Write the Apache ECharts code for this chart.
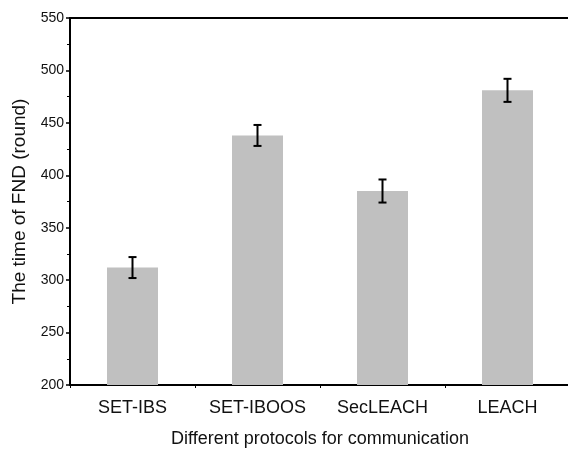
<!DOCTYPE html>
<html><head><meta charset="utf-8">
<script src="https://cdn.jsdelivr.net/npm/echarts@6/dist/echarts.min.js"></script>
<style>html,body{margin:0;padding:0;background:#fff}#c{width:568px;height:449px}</style>
</head><body><div id="c"></div>
<script>
const categories = ['SET-IBS', 'SET-IBOOS', 'SecLEACH', 'LEACH'];
const values = [312, 438, 385, 481];
const errors = [10, 10, 11, 11];
const yTicks = [200, 250, 300, 350, 400, 450, 500, 550];

const font = 'Liberation Sans, Arial, sans-serif';
const chart = echarts.init(document.getElementById('c'));
chart.setOption({
  animation: false,
  grid: { left: 70, top: 18, width: 500, height: 367, outerBoundsMode: 'none', containLabel: false },
  xAxis: [
    { type: 'category', data: categories, position: 'bottom',
      axisLine: { lineStyle: { color: '#000', width: 2 } },
      axisTick: { alignWithLabel: true, length: 5, lineStyle: { color: '#000', width: 1.5 } },
      axisLabel: { interval: 0, hideOverlap: false, color: '#111', fontFamily: font, fontSize: 18, margin: 14 },
      name: 'Different protocols for communication', nameLocation: 'middle', nameGap: 45,
      nameTextStyle: { color: '#111', fontFamily: font, fontSize: 18 } },
    { type: 'category', data: categories, position: 'bottom',
      axisLine: { show: false },
      axisTick: { show: true, interval: 0, length: 3, lineStyle: { color: '#000', width: 1 } },
      axisLabel: { show: false } },
    { type: 'category', data: categories, position: 'top',
      axisLine: { lineStyle: { color: '#000', width: 2 } },
      axisTick: { show: false }, axisLabel: { show: false } }
  ],
  yAxis: {
    type: 'value', min: yTicks[0], max: yTicks[yTicks.length - 1], interval: 50,
    axisLine: { show: true, lineStyle: { color: '#000', width: 2 } },
    axisTick: { show: true, length: 4, lineStyle: { color: '#000', width: 1.5 } },
    minorTick: { show: true, splitNumber: 2, length: 3, lineStyle: { color: '#000', width: 1 } },
    splitLine: { show: false },
    axisLabel: { color: '#111', fontFamily: font, fontSize: 14, margin: 6 },
    name: 'The time of FND (round)', nameLocation: 'middle', nameGap: 41, nameRotate: 90,
    nameTextStyle: { color: '#111', fontFamily: font, fontSize: 19 }
  },
  series: [
    { type: 'bar', data: values, barWidth: 51, itemStyle: { color: '#c0c0c0' } },
    { type: 'custom', z: 5,
      data: values.map((v, i) => [i, v - errors[i], v + errors[i]]),
      renderItem: function (params, api) {
        const lo = api.coord([api.value(0), api.value(1)]);
        const hi = api.coord([api.value(0), api.value(2)]);
        const hw = 4;
        const st = { stroke: '#000', lineWidth: 2 };
        return { type: 'group', children: [
          { type: 'line', shape: { x1: lo[0], y1: lo[1], x2: hi[0], y2: hi[1] }, style: st },
          { type: 'line', shape: { x1: lo[0] - hw, y1: lo[1], x2: lo[0] + hw, y2: lo[1] }, style: st },
          { type: 'line', shape: { x1: hi[0] - hw, y1: hi[1], x2: hi[0] + hw, y2: hi[1] }, style: st }
        ]};
      }
    }
  ]
});
</script></body></html>
